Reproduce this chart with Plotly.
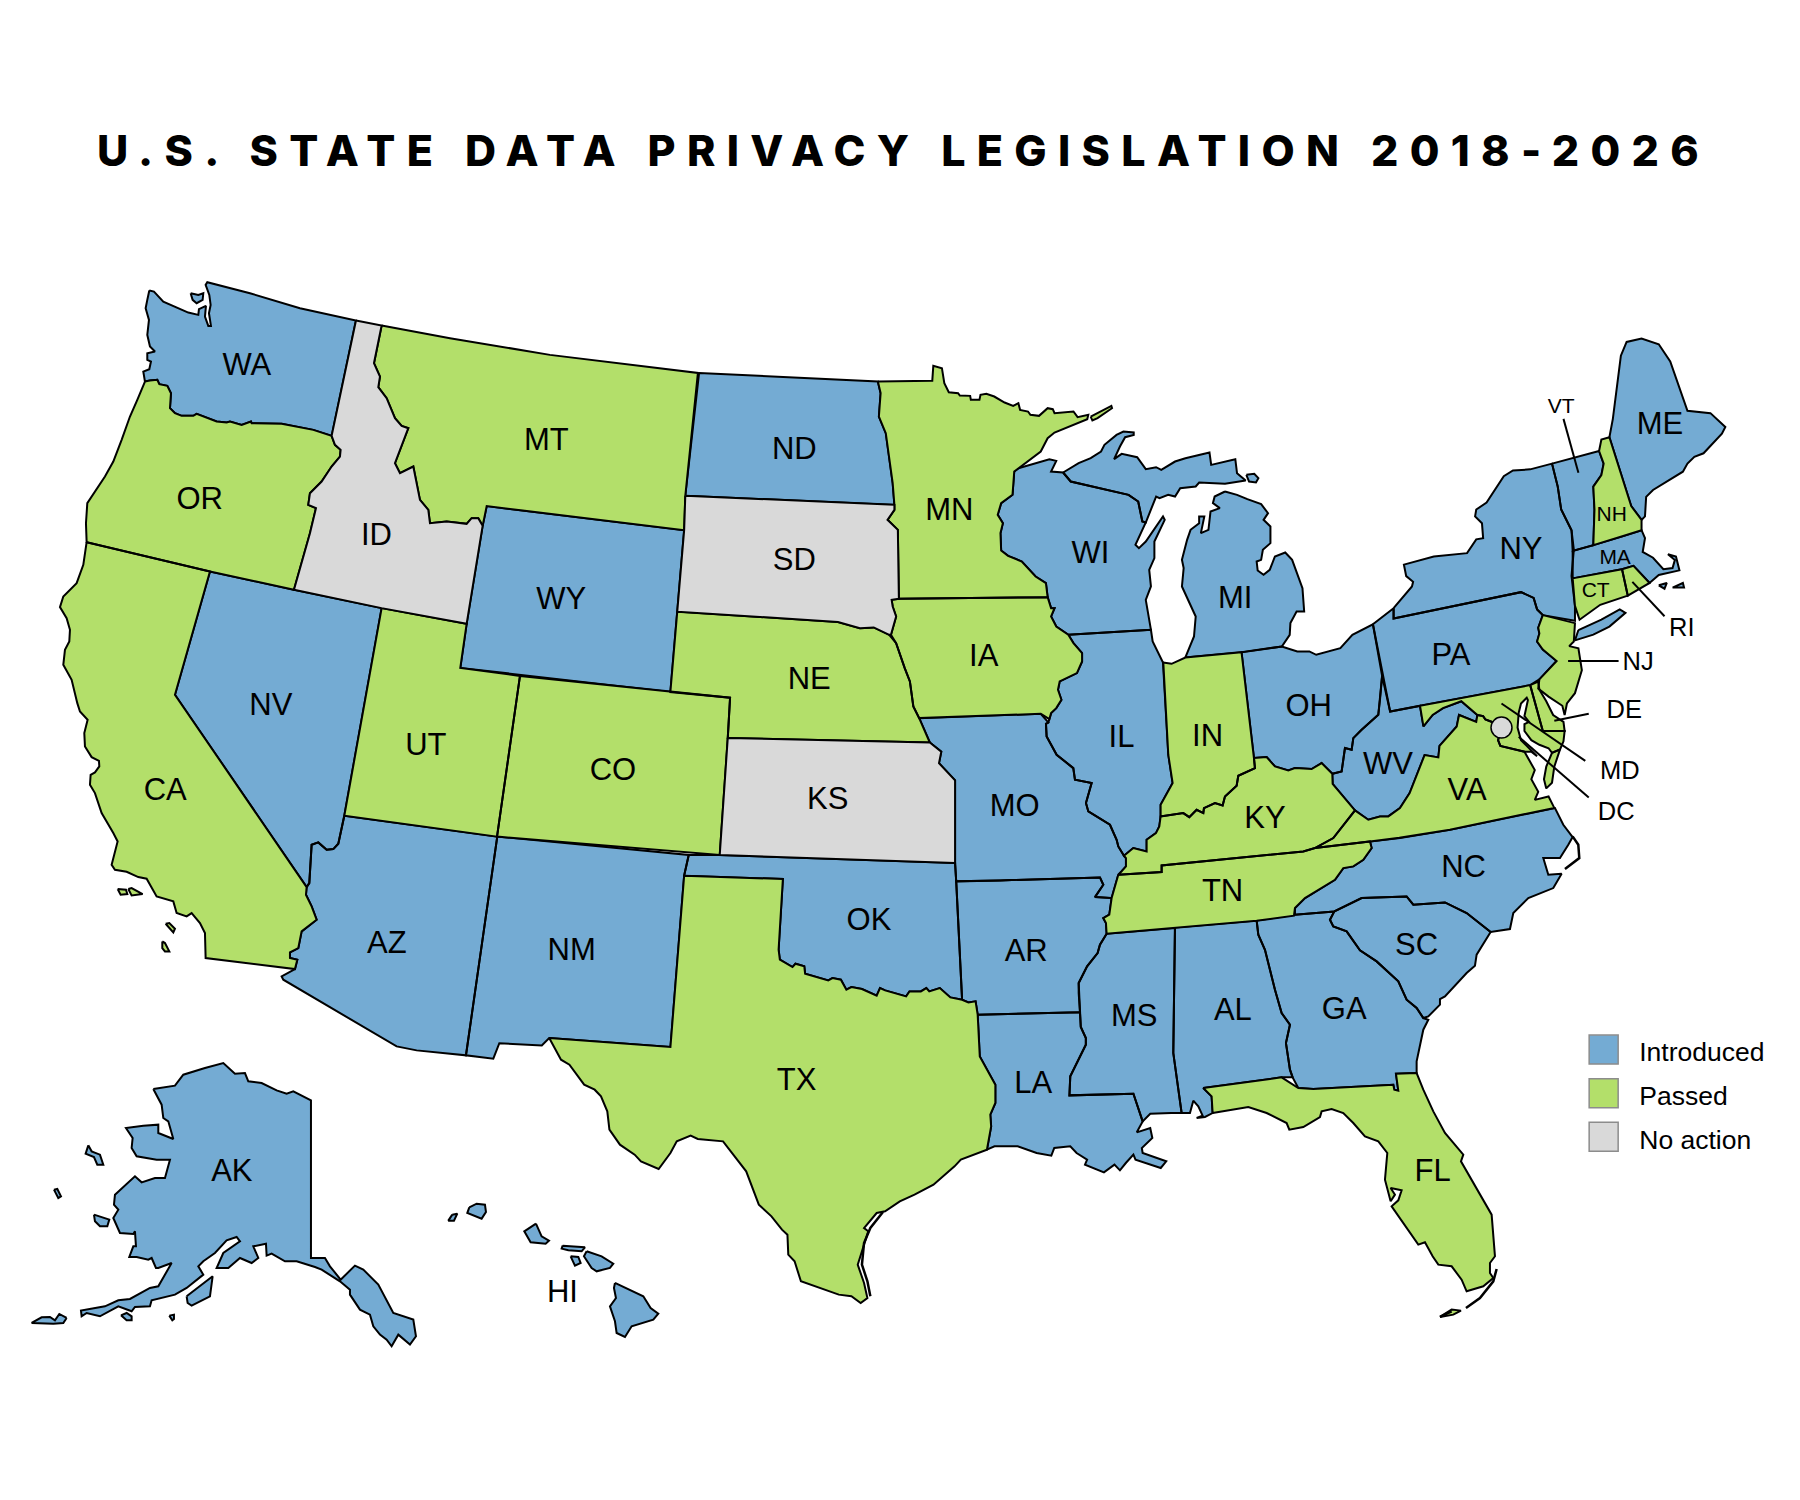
import plotly.graph_objects as go

# ---- status of each state ----
introduced = ["WA","WA2","ND","WY","NV","AZ","NM","OK","AR","MO","LA","MS","AL","GA","SC","NC","WV","OH","PA","NY","LI","VT","ME","MA","MA2","MA3","MI","UP","UP2","WI","IL","AK","AK2","AK3","AK4","AK5","AK6","AK7","AK8","HI1","HI2","HI3","HI4","HI5","HI6","HI7"]
passed = ["OR","CA","CA2","CA3","CA4","CA5","MT","UT","CO","NE","TX","MN","MN2","IA","IN","KY","TN","FL","FL2","VA","VA2","MD","DE","NJ","CT","RI","NH"]
no_action = ["ID","SD","KS"]
legend_labels = ["Introduced","Passed","No action"]
colors = ["#74ABD3","#B3DF6A","#D9D9D9"]

U = 1800/1568
def crop(x0,y0,sx=3.0,sy=3.0):
    return lambda pts: [((x0+x/sx)/U,(y0+y/sy)/U) for x,y in pts]
A=crop(50,270); B=crop(50,700); C=crop(860,360,2.904); E=crop(540,950,2.376)
F=crop(1150,880); G=crop(20,1050); H=crop(430,1180); I=crop(1000,640); Z=crop(1400,600)
rev=lambda l:l[::-1]

columbia=A([(285,335),(300,332),(322,330),(328,343),(352,348),(363,370),(360,415),(375,430),(395,438),(430,438),(440,432),(500,455),(530,458),(540,455),(575,465),(603,455),(605,460),(695,462),(790,480),(845,498)])
snake=A([(845,498),(855,525),(872,540),(870,560),(845,590),(815,635),(780,670),(775,705),(798,715),(780,790),(732,960)])
bitterroot=A([(995,167),(972,280),(990,320),(985,352),(1010,385),(1035,445),(1055,468),(1075,475),(1035,580),(1050,610),(1090,590),(1110,690),(1135,720),(1140,760),(1190,755),(1210,757),(1250,762),(1265,745),(1285,745),(1298,768)])
colorado=B([(770,562),(768,585),(785,620),(800,660),(755,695),(745,745),(720,758),(720,775),(742,780),(735,808)])
redriver1=E([(567,0),(570,30),(600,52),(607,42),(628,50),(630,72),(685,92),(695,85),(715,90),(728,120),(740,112),(765,118),(800,138),(808,115),(820,122),(870,140),(878,125),(905,125),(918,115),(925,125),(950,115),(975,143),(1003,150)])
redriver2=E([(1003,150),(1018,158),(1035,155),(1040,195)])
sabine=E([(1040,195),(1045,320),(1082,405),(1082,460),(1070,495),(1072,530),(1062,600)])
iowa_east=C([(605,825),(620,850),(645,880),(645,905),(630,940),(580,965),(575,990),(585,1020),(570,1045),(555,1060),(550,1078)])
wi_mn=C([(460,325),(448,335),(443,405),(410,430),(400,465),(415,490),(408,520),(410,572),(430,588),(470,605),(510,650),(540,670),(545,712)])
wi_ia=C([(545,712),(555,745),(565,745),(555,770),(570,800),(605,825)])
mo_river=C([(0,805),(40,803),(85,825),(105,850),(130,925),(145,965),(155,1040),(172,1075)])
ohio_in=I([(762,355),(765,385),(715,408),(710,438),(675,470),(668,497),(645,490),(612,505),(610,520),(590,510),(568,532),(550,520),(482,530)])
ohio_il=I([(482,530),(478,560),(468,580),(440,600),(440,635),(400,625),(372,648)])
ohio_oh=I([(762,355),(800,352),(825,380),(865,392),(885,385),(935,388),(965,370),(997,402)])
ohio_wv=I([(997,402),(1025,395),(1035,325),(1055,330),(1060,295),(1085,270),(1135,225),(1140,180),(1137,115)])
mo_il=I([(372,648),(355,620),(350,600),(330,555),(265,515),(258,490),(275,430),(225,420),(220,385),(170,345),(140,290),(138,252),(145,248)])
il_in=I([(490,68),(505,345),(518,430),(482,495),(482,530)])
bootheel=I([(372,648),(378,655),(378,680),(365,695),(355,705)])
tn_west=I([(355,705),(335,775),(328,825),(310,835),(318,850),(320,882)])
tn_ky=I([(355,705),(485,697),(485,677),(910,635),(945,625)])
tn_nc=I([(1110,605),(1115,625),(1090,660),(1060,680),(1030,685),(1005,720),(915,775),(885,805),(882,828)])
ky_va=I([(945,625),(1000,595),(1065,512)])
ky_wv=I([(997,402),(998,432),(1065,512)])
va_wv=I([(1065,512),(1105,540),(1140,530),(1165,530),(1200,505)])
ar_ms=I([(320,882),(300,915)])+E([(1325,10),(1300,50),(1280,100),(1280,130),(1283,188)])
la_ms=E([(1283,188),(1285,232),(1297,265),(1297,285),(1260,380),(1258,437),(1410,432),(1432,515)])
ga_sc=F([(553,95),(540,120),(550,140),(590,155),(630,212),(680,245),(745,305),(770,360),(800,385),(820,415)])
al_ga=F([(320,122),(325,165),(345,210),(375,330),(395,400),(420,435),(408,490),(420,570),(428,593)])
nc_sc=F([(553,95),(635,55),(770,50),(790,75),(885,68),(950,100),(1022,157)])
ga_fl=F([(428,593),(445,625),(490,628),(730,615),(733,630),(745,633),(738,582),(800,580)])
al_fl=F([(428,593),(395,593),(160,625),(185,650),(188,700)])
nj_west=[(1344,536),(1340,547),(1341,552),(1339,559),(1344,566),(1356,576),(1341,592),(1333,597)]
ny_pa=[(1214,539),(1325,516),(1336,521),(1339,531),(1344,536)]

WA=A([(298,62),(312,65),(340,95),(380,112),(415,128),(445,135),(447,118),(468,108),(465,140),(475,168),(483,168),(477,130),(482,105),(478,75),(467,45),(472,37),(600,70),(750,115),(918,152)])+rev(columbia)+A([(280,305),(298,298),(303,275),(292,270),(292,250),(315,245),(300,230),(292,195),(297,150),(287,115),(292,90)])
WA2=A([(422,70),(445,75),(460,70),(458,90),(440,100),(428,90)])
OR=columbia+snake[1:]+A([(480,905),(110,817),(108,760),(112,700),(165,620),(190,575),(215,510),(240,440),(262,390)])
ID=A([(918,152)])+bitterroot+A([(1250,1062),(995,1015)])+rev(snake)
MT=A([(995,167),(1200,205),(1500,255)])+[(608,325),(597,432),(596,462),(424,441)]+rev(bitterroot)
ND=[(609,325)]+C([(52,65),(60,100),(55,170),(75,220),(95,370),(100,435)])+[(597,432)]
SD=[(597,432)]+C([(100,435),(100,450),(80,480),(110,510),(113,717),(92,720),(95,740),(105,770),(90,825),(85,825),(40,803),(0,805)])+[(730,542),(590,533),(596,462)]
WY=[(424,441),(596,462),(584,603),(401,582)]+A([(1250,1062),(1298,768)])
NE=[(590,533),(730,542)]+mo_river+[(810,647),(634,643),(636,608),(584,603)]
KS=[(634,643),(810,647),(820,655),(818,665),(832,680),(832,752),(627,745)]
CO=[(453,589),(584,603),(636,608),(634,643),(627,745),(433,729)]
UT=A([(995,1015),(1250,1062)])+[(401,582),(453,589),(433,729)]+B([(883,348)])
NV=A([(480,905),(732,960),(995,1015)])+B([(883,348),(865,432),(850,448),(830,450),(805,428),(785,435),(778,550),(770,562)])+A([(375,1275)])
CA=A([(110,817),(480,905),(375,1275)])+colorado+B([(467,775),(465,700),(450,670),(425,640),(410,650),(380,640),(370,605),(320,590),(290,537),(265,532),(230,516),(195,510),(185,495),(203,425),(190,400),(155,340),(135,280),(120,255),(122,225),(135,218),(148,200),(147,183),(125,172),(105,140),(103,100),(113,60),(90,35),(82,10)])+A([(65,1230),(40,1185),(45,1140),(58,1115),(60,1080),(50,1045),(30,1012),(40,980),(55,965),(80,940),(100,885)])
CA2=B([(203,568),(228,570),(232,583),(212,585)])
CA3=B([(235,568),(245,565),(278,583),(245,587)])
CA4=B([(347,672),(358,670),(375,687),(370,698)])
CA5=B([(337,725),(345,730),(358,755),(345,755),(337,745)])
AZ=B([(883,348),(1342,410),(1248,1067),(1100,1052),(1040,1040),(700,840),(695,830),(735,808)])+rev(colorado)+B([(778,550),(785,435),(805,428),(830,450),(850,448),(865,432)])
NM=B([(1342,410)])+[(600,745),(596,763)]+E([(310,292),(22,265)])+[(472,911),(435,909)]+B([(1330,1077),(1248,1067)])
OK=[(600,745),(627,745),(832,752),(833,768)]+rev(redriver1)+[(682,766),(596,763)]
TX=[(596,763),(682,766)]+redriver1+redriver2[1:]+sabine[1:]+E([(1000,630),(985,650),(935,705),(890,735),(855,755),(820,785),(800,790),(775,825),(770,835),(780,845),(760,920),(755,945),(770,1000),(778,1045),(762,1060),(740,1040),(710,1035),(675,1020),(620,995),(605,935),(590,915),(588,855),(575,840),(550,800),(520,765),(490,665),(445,590),(435,575),(375,568),(358,558),(325,575),(310,610),(282,658),(240,635),(225,615),(190,585),(165,540),(160,485),(145,440),(130,420),(105,405),(70,345),(50,330),(35,295),(22,265),(310,292)])
AR=[(833,768)]+I([(0,722),(300,713),(310,735),(285,772),(335,775)])+tn_west[2:]+ar_ms[1:]+E([(1040,195)])+rev(redriver2)
MO=C([(172,1075),(525,1062)])+mo_il[::-1][:-1]+bootheel+I([(335,775),(285,772),(310,735),(300,713),(0,722)])+[(833,768),(832,752),(832,680),(818,665),(820,655),(810,647)]
IA=C([(92,720),(113,717)])+wi_mn[-1:]+wi_ia[1:]+iowa_east[1:]+C([(525,1062),(172,1075)])+rev(mo_river)[1:-3]+C([(90,825),(105,770),(95,740)])
MN=C([(52,65),(210,63),(213,18),(238,25),(245,70),(258,97),(285,100),(290,107),(320,108),(322,120),(347,120),(350,105),(367,102),(390,110),(420,128),(445,138),(460,130),(465,150),(488,155),(495,165),(520,168),(545,145),(560,148),(565,160),(620,155),(632,172),(663,165),(660,178),(565,218),(545,235),(525,275),(500,295)])+wi_mn+C([(113,717),(110,510),(80,480),(100,450),(100,435),(95,370),(75,220),(55,170),(60,100)])
MN2=C([(670,170),(730,138),(732,145),(690,175),(675,182)])
WI=C([(460,325),(550,298),(570,303),(555,335),(590,338),(612,365),(780,405),(808,425),(820,485),(830,488),(800,555),(810,565),(830,545),(880,470),(885,480),(855,545),(855,595),(840,630),(845,680),(830,720),(845,810)])+rev(iowa_east)[-1:]+rev(wi_ia)+rev(wi_mn)[1:-1]
UP=C([(590,338),(635,310),(670,295),(700,275),(710,255),(745,225),(765,215),(795,218),(795,225),(770,232),(755,260),(738,298),(760,282),(805,292),(830,328),(860,322),(875,330),(915,305),(945,295),(1015,278),(1020,315),(1090,298),(1095,340),(1120,362),(1060,372),(985,368),(975,380),(930,385),(915,410),(895,405),(870,415),(860,410),(830,488),(820,485),(808,425),(780,405),(612,365)])
UP2=C([(1122,345),(1145,342),(1157,355),(1150,368),(1130,365)])
MI=C([(1060,395),(1095,405),(1125,418),(1165,433),(1185,460),(1172,480),(1192,500),(1192,550),(1170,570),(1165,600),(1152,605),(1155,632),(1172,645),(1190,630),(1205,590),(1235,578),(1255,600),(1285,685),(1290,755),(1268,755),(1250,790),(1248,825),(1225,860),(1113,877),(945,893),(970,830),(975,770),(935,680),(940,625),(935,600),(950,540),(960,510),(985,490),(985,470),(1000,470),(990,520),(1012,510),(1018,455),(1045,445),(1025,430),(1030,410)])
IL=C([(605,825),(845,810),(850,845),(880,908)])+il_in[1:-1]+ohio_il+mo_il[1:]+rev(iowa_east)
IN=C([(880,908),(905,912),(945,893),(1108,877)])+ohio_in+rev(il_in)[1:]
OH=C([(1108,877),(1225,860),(1270,875),(1305,875),(1325,885),(1395,865),(1430,825)])+[(1196,544),(1204,589)]+rev(ohio_wv)[1:]+rev(ohio_oh)
KY=ohio_oh+ky_wv[1:]+ky_va[::-1][1:]+rev(tn_ky)[1:]+rev(bootheel)[1:]+rev(ohio_il)[1:]+rev(ohio_in)[1:-1]
TN=tn_ky+I([(1110,605)])+tn_nc[1:]+I([(770,843),(525,865)])+rev(tn_west)
WV=[(1204,589),(1211,620),(1237,615),(1240,633),(1248,623),(1257,617),(1273,611),(1287,623),(1286,629),(1271,623),(1269,633),(1254,650),(1253,660),(1241,658),(1228,691)]+rev(va_wv)+rev(ky_wv)[1:]+ohio_wv[1:-1]
VA=ky_va+va_wv[1:]+[(1228,691),(1241,658),(1253,660),(1254,650),(1269,633),(1271,623),(1286,629),(1287,623),(1292,624),(1294,627),(1302,630),(1308,634),(1305,645),(1307,650),(1328,655),(1337,671),(1334,679),(1340,690),(1337,697),(1349,694),(1354,704),(1263,723),(1219,730)]+I([(1110,605)])
VA2=[(1359,653),(1354,668),(1352,682),(1347,687),(1345,679),(1347,668),(1352,656)]
MD=[(1237,615),(1333,597),(1344,637),(1363,637),(1362,646),(1359,653),(1352,656),(1349,652),(1341,649),(1334,645),(1328,637),(1328,631),(1332,629),(1328,624),(1331,610),(1330,608),(1325,613),(1323,621),(1322,634),(1325,645),(1339,659),(1334,655),(1328,655),(1307,650),(1305,645),(1308,634),(1302,630),(1294,627),(1292,624),(1287,623),(1273,611),(1257,617),(1248,623),(1240,633)]
DE=[(1333,597),(1340,594),(1341,601),(1347,611),(1353,623),(1362,629),(1363,637),(1344,637)]
NJ=[(1344,536),(1372,543),(1371,559),(1367,563),(1375,565),(1378,584),(1372,604),(1365,613),(1363,623),(1361,615),(1349,607),(1340,600)]+rev(nj_west)[1:]
PA=[(1196,544),(1214,530)]+ny_pa+nj_west[1:]+[(1211,620)]
NY=[(1214,530),(1230,511),(1231,507),(1225,502),(1223,492),(1249,485),(1278,482),(1286,470),(1292,469),(1291,456),(1285,450),(1286,444),(1295,438),(1310,415),(1318,410),(1333,409),(1352,404),(1357,424),(1360,444),(1369,462),(1371,479),(1369,502),(1372,528),(1372,541)]+rev(ny_pa)
LI=[(1375,549),(1395,540),(1411,531),(1416,534),(1402,546),(1388,553),(1372,558)]
VT=[(1352,404),(1393,393),(1397,404),(1395,414),(1388,424),(1389,444),(1388,475),(1370,480),(1369,462),(1360,444),(1357,424)]
NH=[(1393,393),(1395,383),(1402,381),(1421,441),(1430,453),(1430,462),(1414,467),(1388,475),(1389,444),(1388,424),(1395,414),(1397,404)]
ME=[(1402,381),(1405,365),(1412,310),(1417,298),(1430,295),(1445,300),(1455,315),(1470,358),(1490,360),(1503,372),(1500,378),(1484,395),(1476,398),(1470,404),(1466,411),(1452,420),(1440,427),(1434,433),(1433,450),(1430,453),(1421,441)]
MA=[(1370,480),(1388,475),(1414,467),(1430,462),(1433,469),(1431,481),(1440,486),(1449,496),(1457,495),(1459,488),(1453,483),(1460,485),(1463,497),(1445,501),(1437,508),(1423,493),(1413,496),(1370,504)]
MA2=[(1445,510),(1452,508),(1450,513)]
MA3=[(1457,512),(1466,508),(1467,512)]
CT=[(1370,504),(1413,496),(1418,519),(1394,527),(1376,540),(1372,528)]
RI=[(1413,496),(1423,493),(1437,508),(1418,519)]
NC=I([(1110,605),(1200,595)])+[(1263,723)]+Z([(465,625),(490,675),(518,712),(505,735),(480,775),(430,775),(445,825),(485,822),(460,865),(385,895)])+F([(1090,100),(1080,148)])+rev(nc_sc)+F([(435,105)])+rev(tn_nc)[1:-1]
SC=nc_sc+F([(980,225),(975,258),(950,280),(885,350),(870,358),(870,375),(835,410)])+rev(ga_sc)[:-1]
GA=F([(320,122),(435,105)])+ga_sc+F([(835,420),(820,450),(800,545)])+rev(ga_fl)+rev(al_ga)[1:-1]
AL=F([(75,143)])+al_ga+al_fl[1:]+F([(165,712),(140,715),(158,708),(145,680),(130,663),(120,700),(95,700),(70,520)])
MS=I([(320,882),(525,865)])+F([(70,520),(95,700)])+E([(1500,490),(1450,492)])+rev(la_ms)+rev(ar_ms)[1:-1]
LA=E([(1040,195)])+la_ms+E([(1418,548),(1450,535),(1455,565),(1430,595),(1432,610),(1488,635),(1475,655),(1415,630),(1410,615),(1392,640),(1378,662),(1365,645),(1340,668),(1295,645),(1300,630),(1275,610),(1260,590),(1222,595),(1215,618),(1180,610),(1135,590),(1080,590)])+rev(sabine)[:-1]
FL=rev(al_fl)[:-1]+ga_fl[1:]+F([(820,630),(850,695),(885,760),(940,825),(933,845),(1025,1005),(1035,1130),(1020,1150),(1020,1180),(1030,1195),(1000,1220),(950,1235),(935,1200),(905,1160),(865,1155),(848,1130),(825,1088),(805,1095),(725,980),(745,962),(755,932),(722,925),(735,945),(722,965),(705,900),(712,820),(685,785),(645,770),(610,730),(580,700),(545,688),(515,695),(510,712),(460,742),(418,750),(410,730),(350,700),(295,682),(190,698)])
FL2=F([(870,1312),(905,1290),(933,1293),(910,1305)])
AK=G([(400,118),(465,108),(490,75),(520,65),(555,55),(610,40),(645,72),(675,70),(685,95),(725,100),(770,122),(800,132),(820,125),(873,152),(873,625),(915,625),(930,650),(962,690),(1005,648),(1030,660),(1075,705),(1120,790),(1180,810),(1188,860),(1170,885),(1135,855),(1115,890),(1100,870),(1080,855),(1060,830),(1050,795),(1020,780),(990,735),(990,720),(960,695),(905,660),(885,652),(830,635),(795,635),(755,612),(740,618),(738,582),(700,590),(715,625),(695,640),(660,625),(625,655),(590,655),(610,610),(660,575),(650,562),(620,572),(585,610),(550,635),(535,650),(550,675),(500,715),(465,735),(395,752),(390,770),(345,772),(335,785),(295,770),(240,800),(200,790),(185,800),(183,783),(255,770),(295,752),(330,748),(390,715),(415,710),(455,640),(415,655),(408,655),(395,625),(385,630),(350,622),(328,622),(340,590),(348,590),(345,545),(340,553),(300,550),(280,505),(295,480),(282,465),(285,435),(345,380),(365,398),(405,385),(435,385),(450,330),(410,330),(350,320),(335,295),(338,265),(318,235),(370,228),(415,225),(415,250),(460,268),(445,215),(430,205),(425,165)])
AK2=G([(205,287),(215,305),(240,315),(250,345),(232,345),(222,322),(197,312)])
AK3=G([(222,495),(268,510),(262,530),(240,530),(225,515)])
AK4=G([(102,420),(112,418),(123,440),(115,445)])
AK5=G([(500,740),(560,695),(578,680),(570,740),(515,768),(503,760)])
AK6=G([(140,805),(118,793),(105,812),(90,802),(65,803),(35,820),(100,822),(130,820)])
AK7=G([(303,797),(320,790),(335,800),(335,812),(320,812)])
AK8=G([(448,798),(462,795),(462,808),(457,812)])
HI1=H([(555,310),(640,350),(662,385),(685,402),(670,420),(632,432),(605,440),(585,472),(560,460),(555,425),(540,380),(558,355),(552,325)])
HI2=H([(470,215),(515,230),(550,252),(540,265),(500,275),(485,265),(462,230)])
HI3=H([(422,230),(445,232),(452,250),(435,258)])
HI4=H([(398,198),(465,203),(455,215),(415,212),(395,207)])
HI5=H([(318,132),(335,170),(357,183),(347,192),(302,188),(283,155)])
HI6=H([(118,83),(140,72),(165,75),(168,97),(155,117),(112,100)])
HI7=H([(67,105),(82,102),(72,123),(55,123)])

barrier_lines=[E([(815,787),(785,835),(770,880),(765,945),(778,995),(785,1040)]),
               Z([(518,710),(535,735),(538,775),(495,808)]),
               F([(1040,1168),(1030,1205),(990,1255),(948,1285)]),
               F([(870,1312),(905,1295)])]

# ---- labels ----
big_labels=["WA","OR","CA","NV","ID","MT","WY","UT","AZ","CO","NM","ND","SD","NE","KS","OK","TX","MN","IA","MO","AR","LA","WI","IL","MI","IN","OH","KY","TN","MS","AL","GA","FL","SC","NC","VA","WV","PA","NY","ME","AK","HI"]
big_x=[215,174,144,236,328,476,489,371,337,534,498,692,692,705,721,757,694,827,857,884,894,900,950,977,1076,1052,1140,1102,1065,988,1074,1171,1248,1234,1275,1278,1209,1264,1325,1446,202,490]
big_y=[320,437,690,616,468,385,524,651,824,673,830,393,490,594,698,804,943,446,574,704,831,946,484,644,523,643,617,715,778,887,882,881,1022,825,757,690,668,573,480,371,1022,1128]
small_labels=["NH","MA","CT","VT"]
small_x=[1404,1407,1390,1360]
small_y=[449,487,516,355]
mid_labels=["RI","NJ","DE","MD","DC"]
mid_x=[1465,1427,1415,1411,1408]
mid_y=[549,578,620,673,709]
leader_x=[1362,1375,None,1450,1422,None,1410,1366,None,1384,1354,None,1381,1308,None,1384,1323]
leader_y=[365,412,None,537,507,None,576,576,None,622,628,None,663,613,None,695,642]
dc_x=[1308]; dc_y=[634]
legend_x=[1397,1397,1397]; legend_y=[914.6,952.6,990.6]; legend_tx=[1428,1428,1428]; legend_ty=[919,957,995]

ns=globals()
def path(names):
    xs,ys=[],[]
    for n in names:
        pts=ns[n]
        xs+= [p[0] for p in pts]+[pts[0][0],None]
        ys+= [p[1] for p in pts]+[pts[0][1],None]
    return xs,ys

fig=go.Figure()
for group,label,c in zip([introduced,passed,no_action],legend_labels,colors):
    xs,ys=path(group)
    fig.add_trace(go.Scatter(x=xs,y=ys,mode="lines",fill="toself",fillcolor=c,name=label,showlegend=False,
        line=dict(color="black",width=2,shape="linear"),hoverinfo="name"))
bx,by=[],[]
for l in barrier_lines:
    bx+=[p[0] for p in l]+[None]; by+=[p[1] for p in l]+[None]
fig.add_trace(go.Scatter(x=bx,y=by,mode="lines",line=dict(color="black",width=2.5),showlegend=False,hoverinfo="skip"))
fig.add_trace(go.Scatter(x=leader_x,y=leader_y,mode="lines",line=dict(color="black",width=2),showlegend=False,hoverinfo="skip"))
fig.add_trace(go.Scatter(x=dc_x,y=dc_y,mode="markers",marker=dict(size=21,color=colors[2],line=dict(color="black",width=1.5)),name="DC",showlegend=False))
for labs,xs,ys,size in [(big_labels,big_x,big_y,31),(small_labels,small_x,small_y,21),(mid_labels,mid_x,mid_y,25.5)]:
    fig.add_trace(go.Scatter(x=xs,y=ys,mode="text",text=labs,textposition="middle center",showlegend=False,hoverinfo="skip",
        textfont=dict(family="Liberation Sans, Arial",size=size,color="black")))
fig.add_trace(go.Scatter(x=legend_x,y=legend_y,mode="markers",showlegend=False,hoverinfo="skip",
    marker=dict(symbol="square",size=29,color=colors,line=dict(color="#8c8c8c",width=1.5))))
fig.add_trace(go.Scatter(x=legend_tx,y=legend_ty,mode="text",text=legend_labels,textposition="middle right",showlegend=False,hoverinfo="skip",
    textfont=dict(family="Liberation Sans, Arial",size=26.5,color="black")))
fig.update_layout(width=1800,height=1500,margin=dict(l=0,r=0,t=0,b=0),paper_bgcolor="white",plot_bgcolor="white",
    showlegend=False,
    title=dict(text="U.S. STATE DATA PRIVACY LEGISLATION 2018-2026",x=0.4975,xanchor="center",y=0.905,yanchor="middle",
        font=dict(family="Inter, Open Sans",size=43,color="black",weight=800)),
    xaxis=dict(range=[7,1575],visible=False,fixedrange=True),
    yaxis=dict(range=[1314,7],visible=False,fixedrange=True))
fig.write_html("out.html",post_script="document.querySelectorAll('.gtitle').forEach(function(e){e.style.letterSpacing='0.263em';});")
